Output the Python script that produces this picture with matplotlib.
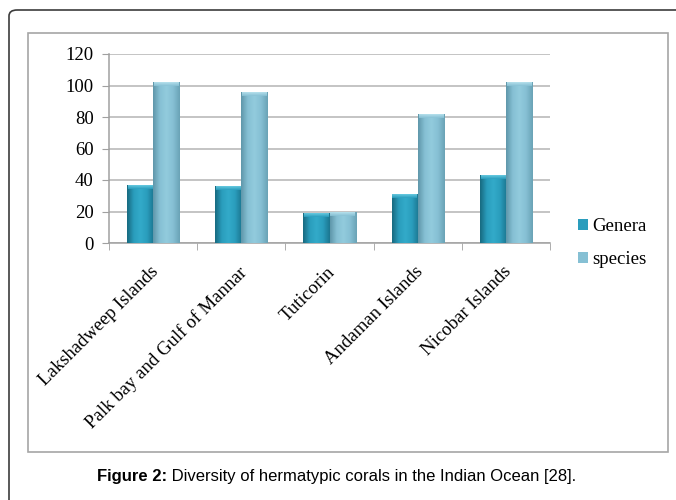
import matplotlib
matplotlib.use("Agg")
import matplotlib.pyplot as plt
import numpy as np
from matplotlib.colors import LinearSegmentedColormap
from matplotlib.patches import FancyBboxPatch, Rectangle
from matplotlib.transforms import ScaledTranslation

# data
sites = ["Lakshadweep Islands", "Palk bay and Gulf of Mannar", "Tuticorin",
         "Andaman Islands", "Nicobar Islands"]
genera = [37, 36, 19, 31, 43]
species = [102, 96, 20, 82, 102]
series_names = ["Genera", "species"]
y_ticks = [0, 20, 40, 60, 80, 100, 120]
caption_bold = "Figure 2:"
caption_rest = " Diversity of hermatypic corals in the Indian Ocean [28]."

W, H = 676, 500
fig = plt.figure(figsize=(W / 100, H / 100), dpi=100)

# outer frame (rounded top-left corner) and inner chart box
fig.patches.append(FancyBboxPatch((9 / W, -0.1), 1.2, 1 - 10 / H + 0.1,
                                  boxstyle="round,pad=0,rounding_size=0.012",
                                  transform=fig.transFigure, fill=False,
                                  edgecolor="#3c3c3c", linewidth=1.2))
fig.patches.append(Rectangle((28 / W, 1 - 452 / H), (668 - 28) / W, (452 - 33) / H,
                             transform=fig.transFigure, fill=False,
                             edgecolor="#a6a6a6", linewidth=1.2))

ax = fig.add_axes([109 / W, 1 - 243 / H, (550 - 109) / W, (243 - 54) / H])

gen_cmap = LinearSegmentedColormap.from_list(
    "gen", ["#176a80", "#2a9dbd", "#33abc9", "#2a9dbd", "#1c7690"])
spe_cmap = LinearSegmentedColormap.from_list(
    "spe", ["#5f97aa", "#86c0d4", "#92cbdd", "#86c0d4", "#6aa3b6"])
base_colors = ["#2a9dbd", "#86c0d4"]
top_colors = ["#7fdcef", "#c9eef7"]

x = np.arange(len(sites))
bw = 0.297
grad = np.linspace(0, 1, 64).reshape(1, -1)
for k, (vals, cmap) in enumerate([(genera, gen_cmap), (species, spe_cmap)]):
    offs = (k - 0.5) * bw
    bars = ax.bar(x + offs, vals, bw, color=base_colors[k], zorder=2,
                  label=series_names[k], linewidth=0)
    for b in bars:
        x0, w, h = b.get_x(), b.get_width(), b.get_height()
        im = ax.imshow(grad, cmap=cmap, aspect="auto",
                       extent=[x0, x0 + w, 0, h], zorder=3, interpolation="bicubic")
        im.set_clip_path(b)
        # light cap at the top of each bar
        cap = ax.imshow(np.linspace(0, 1, 32).reshape(-1, 1),
                        cmap=LinearSegmentedColormap.from_list(
                            "c", [top_colors[k], base_colors[k]]),
                        aspect="auto", extent=[x0 + 0.01, x0 + w - 0.01, h - 2.6, h],
                        origin="upper", zorder=4, alpha=0.9)
        cap.set_clip_path(b)

ax.set_xlim(-0.5, len(sites) - 0.5)
ax.set_ylim(0, 120)
ax.set_yticks(y_ticks)
ax.set_yticklabels([str(v) for v in y_ticks], family="Liberation Serif", fontsize=13.5)
ax.yaxis.grid(True, color="#b4b4b4", linewidth=1.1, zorder=0)
ax.set_axisbelow(True)

ax.set_xticks(x)
ax.set_xticklabels(sites, rotation=45, ha="right", va="top", rotation_mode="anchor",
                   family="Liberation Serif", fontsize=13.5)
ax.tick_params(axis="x", length=0, pad=6)
shift = ScaledTranslation(-3 / 100, -12 / 100, fig.dpi_scale_trans)
for lab in ax.get_xticklabels():
    lab.set_transform(lab.get_transform() + shift)
ax.set_xticks(np.arange(len(sites) + 1) - 0.5, minor=True)
ax.tick_params(axis="x", which="minor", length=5, color="#a0a0a0", direction="out")
ax.tick_params(axis="y", length=5, color="#a0a0a0", pad=6)

for s in ["top", "right"]:
    ax.spines[s].set_visible(False)
for s in ["left", "bottom"]:
    ax.spines[s].set_color("#a0a0a0")
    ax.spines[s].set_linewidth(1.1)

leg = ax.legend(loc="center left", bbox_to_anchor=(561 / W, 1 - 243 / H),
                bbox_transform=fig.transFigure, frameon=False,
                prop={"family": "Liberation Serif", "size": 13.5},
                handlelength=0.55, handleheight=0.55, handletextpad=0.2,
                labelspacing=0.85)
leg.legend_handles[0].set_color(base_colors[0])
leg.legend_handles[1].set_color(base_colors[1])

t1 = fig.text(97 / W, 1 - 476 / H, caption_bold, fontsize=12, fontweight="bold",
              family="Liberation Sans", va="center")
fig.canvas.draw()
bb = t1.get_window_extent()
fig.text(bb.x1 / W, 1 - 476 / H, caption_rest, fontsize=12,
         family="Liberation Sans", va="center")

fig.savefig("out.png", dpi=100)
